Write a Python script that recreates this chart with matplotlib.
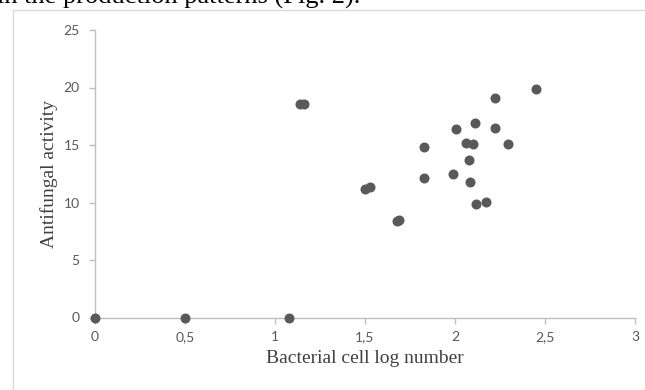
import matplotlib
matplotlib.use("Agg")
import matplotlib.pyplot as plt
from matplotlib.lines import Line2D

# ── data ─────────────────────────────────────────────────────────────────────
log_number = [0.0, 0.5, 1.08, 1.14, 1.16,
              1.50, 1.53, 1.675, 1.69,
              1.83, 1.83, 1.99, 2.006, 2.061, 2.098, 2.078, 2.083,
              2.113, 2.117, 2.172, 2.224, 2.224, 2.293, 2.45]
activity   = [0.0, 0.0, 0.0, 18.6, 18.6,
              11.17, 11.37, 8.38, 8.45,
              14.85, 12.1, 12.48, 16.36, 15.15, 15.09, 13.7, 11.76,
              16.89, 9.87, 10.07, 19.06, 16.45, 15.09, 19.87]

x_ticks = [0, 0.5, 1, 1.5, 2, 2.5, 3]
x_tick_labels = ["0", "0,5", "1", "1,5", "2", "2,5", "3"]
y_ticks = [0, 5, 10, 15, 20, 25]

W, H = 645, 390
_AXIS = "#bfbfbf"
_TICK = "#595959"
_DOT = "#595959"
_LABEL = "#404040"
_FRAME = "#d9d9d9"

fig = plt.figure(figsize=(W / 100, H / 100), dpi=100)
fig.patch.set_facecolor("white")

# page text cut off at the top of the crop
fig.text(-3 / W, 1 - 4 / H, "in the production patterns (Fig. 2).",
         family="Liberation Serif", fontsize=19, color="black",
         ha="left", va="baseline")

# chart frame (only left and top edges are inside the crop)
fig.add_artist(Line2D([13 / W, 13 / W, 1.0], [0.0, 1 - 10 / H, 1 - 10 / H],
                      transform=fig.transFigure, color=_FRAME, lw=1.0))

ax = fig.add_axes([95 / W, 1 - 317.5 / H, 540 / W, 287.5 / H])
ax.scatter(log_number, activity, s=52, color=_DOT, zorder=3, clip_on=False,
           linewidths=0)

ax.set_xlim(0, 3)
ax.set_ylim(0, 25)
ax.set_xticks(x_ticks)
ax.set_xticklabels(x_tick_labels)
ax.set_yticks(y_ticks)

for side in ("top", "right"):
    ax.spines[side].set_visible(False)
for side in ("left", "bottom"):
    ax.spines[side].set_color(_AXIS)
    ax.spines[side].set_linewidth(1.0)

ax.tick_params(axis="both", colors=_AXIS, labelcolor=_TICK, length=4,
               width=1.0, labelsize=10)
ax.tick_params(axis="y", pad=7)
ax.tick_params(axis="x", pad=6)
for lbl in ax.get_xticklabels() + ax.get_yticklabels():
    lbl.set_family("Lato")

ax.set_xlabel("Bacterial cell log number", family="Liberation Serif",
              fontsize=14, color=_LABEL, labelpad=5)
ax.set_ylabel("Antifungal activity", family="Liberation Serif",
              fontsize=14, color=_LABEL, labelpad=4)

fig.savefig("out.png", dpi=100, facecolor="white")
plt.close(fig)
